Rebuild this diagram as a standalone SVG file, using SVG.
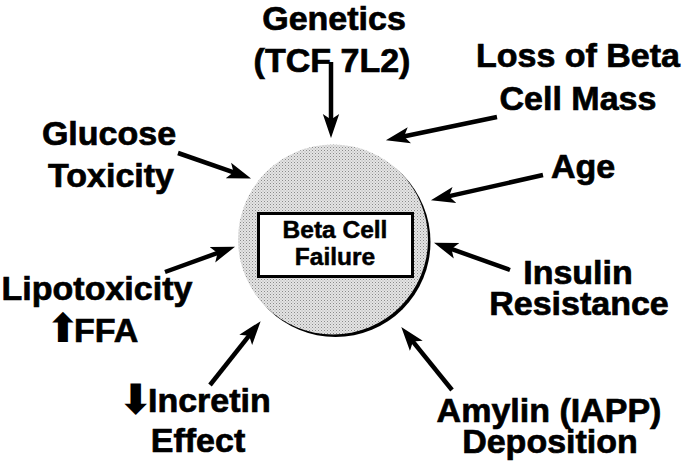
<svg xmlns="http://www.w3.org/2000/svg" width="685" height="466" viewBox="0 0 685 466">
<style>
.lbl{font-family:"Liberation Sans",Arial,sans-serif;font-weight:bold;font-size:34px;fill:#000;stroke:#000;stroke-width:0.7;text-anchor:middle}
.sym{font-family:"DejaVu Sans",sans-serif;font-weight:bold;stroke-width:0}
.con{stroke:#000;stroke-width:4.5;fill:none;marker-end:url(#ah)}
.inner{font-family:"Liberation Sans",Arial,sans-serif;font-weight:bold;font-size:24.5px;fill:#000;stroke:#000;stroke-width:0.5;text-anchor:middle}
</style>
<defs>
<marker id="ah" markerUnits="userSpaceOnUse" markerWidth="24" markerHeight="18" viewBox="0 -8 22 16" refX="10" refY="0" orient="auto">
<path d="M0,-7.5 L22,0 L0,7.5 L5,0 z" fill="#000"/>
</marker>
<pattern id="stip" width="3" height="3" patternUnits="userSpaceOnUse">
<rect width="3" height="3" fill="#e4e4e4"/>
<rect x="0" y="0" width="1" height="1" fill="#8a8a8a"/>
<rect x="1.5" y="1.5" width="1" height="1" fill="#a8a8a8"/>
</pattern>
</defs>
<rect width="685" height="466" fill="#fff"/>
<g id="center">
<circle cx="335.5" cy="242" r="95" fill="#000"/>
<circle cx="333" cy="239.5" r="95" fill="url(#stip)"/>
<rect x="258.5" y="213.5" width="154" height="63" fill="#fff" stroke="#000" stroke-width="3"/>
<text class="inner" x="335" y="238">Beta Cell</text>
<text class="inner" x="335" y="265">Failure</text>
</g>
<g id="connectors">
<line class="con" x1="331" y1="62" x2="331" y2="125"/>
<line class="con" x1="497" y1="117" x2="398.7" y2="137.5"/>
<line class="con" x1="543" y1="175" x2="443.7" y2="197.4"/>
<line class="con" x1="510" y1="270" x2="446.3" y2="247.1"/>
<line class="con" x1="452" y1="390" x2="409.5" y2="337.3"/>
<line class="con" x1="210" y1="385" x2="252.5" y2="331.4"/>
<line class="con" x1="165" y1="272" x2="222.7" y2="251.1"/>
<line class="con" x1="178" y1="153" x2="238.7" y2="174.1"/>
</g>
<g id="genetics">
<text class="lbl" x="334" y="30">Genetics</text>
<text class="lbl" x="332" y="72">(TCF 7L2)</text>
</g>
<g id="loss">
<text class="lbl" x="578" y="67">Loss of Beta</text>
<text class="lbl" x="578" y="110">Cell Mass</text>
</g>
<g id="age">
<text class="lbl" x="583" y="178">Age</text>
</g>
<g id="insulin">
<text class="lbl" x="578" y="284">Insulin</text>
<text class="lbl" x="579" y="315">Resistance</text>
</g>
<g id="amylin">
<text class="lbl" x="549" y="422">Amylin (IAPP)</text>
<text class="lbl" x="550" y="453">Deposition</text>
</g>
<g id="incretin">
<text class="lbl" y="412" style="text-anchor:start"><tspan class="sym" font-size="42" x="118" dy="2">⬇</tspan><tspan x="148" dy="-2">Incretin</tspan></text>
<text class="lbl" x="198" y="452">Effect</text>
</g>
<g id="lipotoxicity">
<text class="lbl" x="97" y="300">Lipotoxicity</text>
<text class="lbl" y="342" style="text-anchor:start"><tspan class="sym" font-size="40" x="46">⬆</tspan><tspan x="74">FFA</tspan></text>
</g>
<g id="glucose">
<text class="lbl" x="109" y="145">Glucose</text>
<text class="lbl" x="111" y="187">Toxicity</text>
</g>
</svg>
